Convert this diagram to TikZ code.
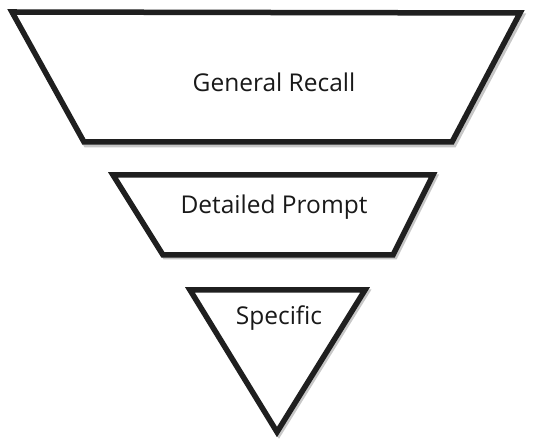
\documentclass[tikz,border=0pt]{standalone}
\usepackage{fontspec}
\setmainfont{Open Sans}
\begin{document}
\begin{tikzpicture}[x=1pt,y=1pt,
  funnel/.style={draw=black!88,line width=5.5pt,fill=white,line join=miter},
  shade/.style={draw=black!22,line width=5pt,line join=miter},
  lbl/.style={font=\fontsize{24.5}{28}\selectfont,text=black!90}]
\useasboundingbox (0,0) rectangle (540,446);
% shadows
\draw[shade] (14,431) -- (522,430) -- (454,301) -- (86,301) -- cycle;
\draw[shade] (115,269) -- (435,269) -- (395,189) -- (165,189) -- cycle;
\draw[shade] (192,154) -- (367,154) -- (279,12) -- cycle;
% shapes
\draw[funnel] (12,434) -- (520,433) -- (452,304) -- (84,304) -- cycle;
\draw[funnel] (113,271) -- (433,271) -- (393,191) -- (163,191) -- cycle;
\draw[funnel] (190,156) -- (365,156) -- (277,14) -- cycle;
% labels
\node[lbl] (gr) at (274,364) {General Recall};
\node[lbl] (dp) at (274,239) {Detailed Prompt};
\node[lbl] (sp) at (279,128) {Specific};
\end{tikzpicture}
\end{document}
